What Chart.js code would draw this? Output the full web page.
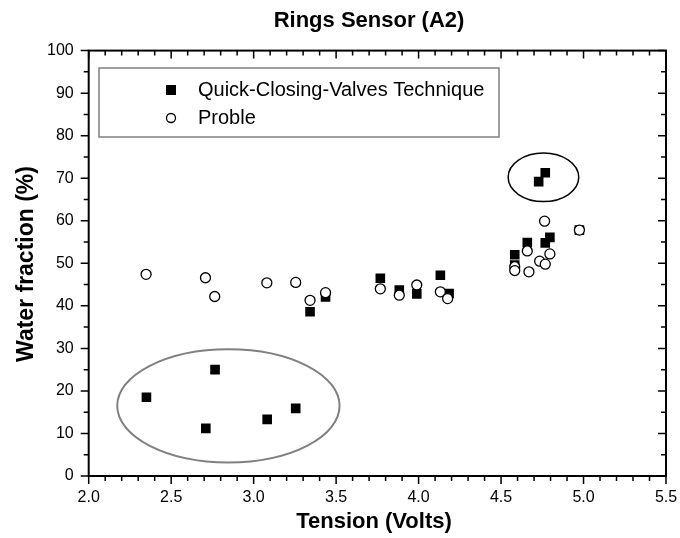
<!DOCTYPE html>
<html>
<head>
<meta charset="utf-8">
<script src="https://cdn.jsdelivr.net/npm/chart.js@4/dist/chart.umd.min.js"></script>
<style>
  html, body { margin: 0; padding: 0; background: #fff; }
  #wrap { width: 680px; height: 538px; }
</style>
</head>
<body>
<div id="wrap"><canvas id="ringsChart" width="680" height="538"></canvas></div>
<script>
// Quick-Closing-Valves Technique (filled squares)
const qcvVolts = [2.35, 2.71, 2.766, 3.082, 3.255, 3.342, 3.436, 3.768, 3.883, 3.989, 4.132, 4.185,
                  4.583, 4.583, 4.659, 4.728, 4.768, 4.768, 4.796, 4.975];
const qcvWater = [18.5, 11.2, 25.0, 13.3, 15.9, 38.6, 42.1, 46.5, 43.7, 42.8, 47.2, 42.9,
                  52.0, 49.6, 54.9, 69.2, 71.3, 54.8, 56.1, 57.8];

// Proble (open circles)
const probVolts = [2.348, 2.708, 2.764, 3.08, 3.255, 3.342, 3.436, 3.768, 3.883, 3.989, 4.132, 4.176,
                   4.583, 4.583, 4.659, 4.669, 4.734, 4.764, 4.768, 4.796, 4.975];
const probWater = [47.4, 46.6, 42.2, 45.4, 45.5, 41.3, 43.1, 44.0, 42.5, 44.9, 43.3, 41.7,
                   49.2, 48.3, 52.9, 48.0, 50.5, 59.9, 49.8, 52.2, 57.8];

const xTicks = [2.0, 2.5, 3.0, 3.5, 4.0, 4.5, 5.0, 5.5];
const yTicks = [0, 10, 20, 30, 40, 50, 60, 70, 80, 90, 100];

// highlighted groups (centre and half-axes in data units)
const rings = [
  { x: 2.847, y: 16.5, rx: 0.674, ry: 13.3, color: '#808080', width: 2 },
  { x: 4.757, y: 70.2, rx: 0.214, ry: 5.7, color: '#000000', width: 1.5 }
];

const FONT = '"Liberation Sans", Arial, sans-serif';
const toPoints = (xs, ys) => xs.map((x, i) => ({ x: x, y: ys[i] }));

const frame = {
  id: 'frame',
  afterDatasetsDraw(chart) {
    const { ctx, chartArea: a, scales: { x, y } } = chart;
    ctx.save();

    // ellipses
    rings.forEach(r => {
      const cx = x.getPixelForValue(r.x), cy = y.getPixelForValue(r.y);
      const rx = Math.abs(x.getPixelForValue(r.x + r.rx) - cx);
      const ry = Math.abs(y.getPixelForValue(r.y + r.ry) - cy);
      ctx.beginPath();
      ctx.ellipse(cx, cy, rx, ry, 0, 0, Math.PI * 2);
      ctx.strokeStyle = r.color;
      ctx.lineWidth = r.width;
      ctx.stroke();
    });

    // box
    ctx.strokeStyle = '#000';
    ctx.lineWidth = 2;
    ctx.strokeRect(a.left, a.top, a.right - a.left, a.bottom - a.top);

    // ticks: outward on left/bottom, inward on top/right
    ctx.lineWidth = 1.5;
    ctx.beginPath();
    for (let i = 0; i <= 35; i++) {
      const v = 2 + i * 0.1;
      const px = x.getPixelForValue(v);
      const len = i % 5 === 0 ? 8 : 5;
      ctx.moveTo(px, a.bottom); ctx.lineTo(px, a.bottom + len);
      ctx.moveTo(px, a.top); ctx.lineTo(px, a.top + len);
    }
    for (let i = 0; i <= 20; i++) {
      const v = i * 5;
      const py = y.getPixelForValue(v);
      const len = i % 2 === 0 ? 8 : 5;
      ctx.moveTo(a.left, py); ctx.lineTo(a.left - len, py);
      ctx.moveTo(a.right, py); ctx.lineTo(a.right - len, py);
    }
    ctx.stroke();

    // legend
    ctx.strokeStyle = '#808080';
    ctx.lineWidth = 1.5;
    ctx.strokeRect(99, 68, 400, 69);
    ctx.fillStyle = '#000';
    ctx.fillRect(166, 85, 10, 10);
    ctx.beginPath();
    ctx.arc(171, 118, 4.5, 0, Math.PI * 2);
    ctx.fillStyle = '#fff';
    ctx.fill();
    ctx.strokeStyle = '#000';
    ctx.lineWidth = 1.3;
    ctx.stroke();
    ctx.fillStyle = '#000';
    ctx.font = '20px ' + FONT;
    ctx.textAlign = 'left';
    ctx.textBaseline = 'middle';
    ctx.fillText('Quick-Closing-Valves Technique', 198, 90);
    ctx.fillText('Proble', 198, 118);

    // titles
    ctx.font = 'bold 22px ' + FONT;
    ctx.textAlign = 'center';
    ctx.fillText('Rings Sensor (A2)', 369, 21);
    ctx.fillText('Tension (Volts)', 374, 522);
    ctx.font = 'bold 23px ' + FONT;
    ctx.translate(27, 264);
    ctx.rotate(-Math.PI / 2);
    ctx.fillText('Water fraction (%)', 0, 0);
    ctx.restore();
  }
};

new Chart(document.getElementById('ringsChart'), {
  type: 'scatter',
  data: {
    datasets: [
      {
        label: 'Proble',
        data: toPoints(probVolts, probWater),
        pointStyle: 'circle',
        pointRadius: 5,
        backgroundColor: '#fff',
        borderColor: '#000',
        borderWidth: 1.3,
        order: 0
      },
      {
        label: 'Quick-Closing-Valves Technique',
        data: toPoints(qcvVolts, qcvWater),
        pointStyle: 'rect',
        pointRadius: 6.8,
        backgroundColor: '#000',
        borderColor: '#000',
        borderWidth: 0,
        order: 1
      }
    ]
  },
  plugins: [frame],
  options: {
    responsive: false,
    animation: false,
    layout: { padding: { top: 50.6, right: 14, left: 0, bottom: 0 } },
    plugins: { legend: { display: false }, title: { display: false }, tooltip: { enabled: false } },
    scales: {
      x: {
        type: 'linear', min: 2, max: 5.5,
        afterBuildTicks: s => { s.ticks = xTicks.map(v => ({ value: v })); },
        afterFit: s => { s.height = 62; s.paddingLeft = 0; s.paddingRight = 0; },
        grid: { display: false, drawTicks: false },
        border: { display: false },
        ticks: {
          padding: 12,
          color: '#000',
          maxRotation: 0,
          font: { size: 16, family: FONT },
          callback: v => Number(v).toFixed(1)
        }
      },
      y: {
        type: 'linear', min: 0, max: 100,
        afterBuildTicks: s => { s.ticks = yTicks.map(v => ({ value: v })); },
        afterFit: s => { s.width = 88.7; s.paddingTop = 0; s.paddingBottom = 0; },
        grid: { display: false, drawTicks: false },
        border: { display: false },
        ticks: {
          padding: 15,
          color: '#000',
          font: { size: 16, family: FONT }
        }
      }
    }
  }
});
</script>
</body>
</html>
